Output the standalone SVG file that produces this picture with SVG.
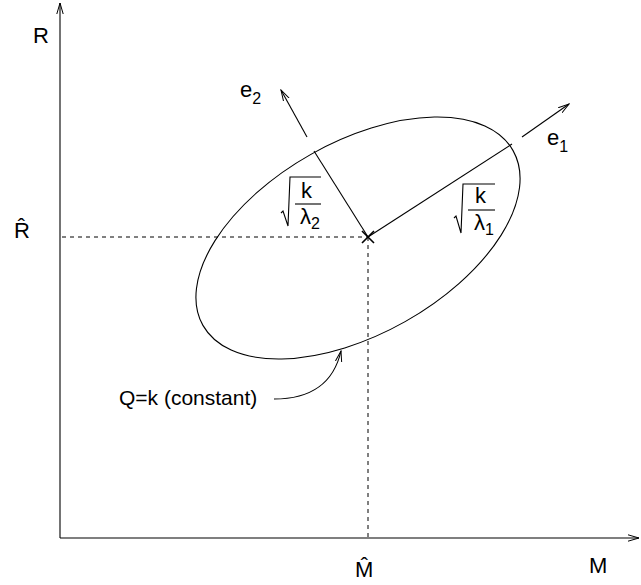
<svg xmlns="http://www.w3.org/2000/svg" width="641" height="585" viewBox="0 0 641 585">
<style>
  .ln { fill: none; stroke: #000; stroke-width: 1.1; }
  .dash { fill: none; stroke: #000; stroke-width: 1; stroke-dasharray: 4 4; }
  .t { font-family: "Liberation Sans", Arial, sans-serif; font-size: 22px; fill: #000; }
  .q { font-size: 21px; }
  .s { font-size: 16px; }
</style>
<defs>
  <marker id="arr" markerWidth="12" markerHeight="8" refX="11" refY="4" orient="auto" markerUnits="userSpaceOnUse">
    <path d="M0,0.8 L11,4 L0,7.2" fill="none" stroke="#000" stroke-width="1"/>
  </marker>
</defs>
<rect width="641" height="585" fill="#fff"/>
<g id="connectors">
  <line class="ln" x1="60" y1="538" x2="60" y2="3" marker-end="url(#arr)"/>
  <line class="ln" x1="60" y1="538" x2="639" y2="538" marker-end="url(#arr)"/>
  <line class="dash" x1="62" y1="237" x2="368" y2="237"/>
  <line class="dash" x1="368" y1="237" x2="368" y2="538"/>
  <line class="ln" x1="368" y1="237" x2="512" y2="144"/>
  <line class="ln" x1="368" y1="237" x2="314" y2="151"/>
  <line class="ln" x1="522" y1="137" x2="569" y2="104" marker-end="url(#arr)"/>
  <line class="ln" x1="307" y1="137" x2="281" y2="90" marker-end="url(#arr)"/>
  <path class="ln" d="M274,399 Q330,399 341,351" marker-end="url(#arr)"/>
</g>
<g id="ellipse">
  <ellipse class="ln" cx="358" cy="238" rx="178" ry="96" transform="rotate(-29.4 358 238)"/>
</g>
<g id="center">
  <path d="M362,231 L374,243 M374,231 L362,243" stroke="#000" stroke-width="1.6" fill="none"/>
</g>
<g id="axis-labels">
  <text class="t" x="33" y="43">R</text>
  <text class="t" x="14" y="238">R̂</text>
  <text class="t" x="355" y="577">M̂</text>
  <text class="t" x="589" y="573">M</text>
</g>
<g id="e1-label">
  <text class="t" x="547" y="145">e<tspan class="s" dy="7">1</tspan></text>
</g>
<g id="e2-label">
  <text class="t" x="240" y="97">e<tspan class="s" dy="7">2</tspan></text>
</g>
<g id="sqrt-lambda2">
  <path class="ln" d="M281,213 L283,211 L288,226 L290,177 L321,177"/>
  <line class="ln" x1="295" y1="204" x2="321" y2="204"/>
  <text class="t" x="301" y="198">k</text>
  <text class="t" x="300" y="224">λ<tspan class="s" dy="5">2</tspan></text>
</g>
<g id="sqrt-lambda1">
  <path class="ln" d="M454,218 L456,216 L461,233 L463,184 L495,184"/>
  <line class="ln" x1="468" y1="210" x2="495" y2="210"/>
  <text class="t" x="475" y="203">k</text>
  <text class="t" x="474" y="230">λ<tspan class="s" dy="5">1</tspan></text>
</g>
<g id="q-label">
  <text class="t q" x="119" y="405">Q=k (constant)</text>
</g>
</svg>
